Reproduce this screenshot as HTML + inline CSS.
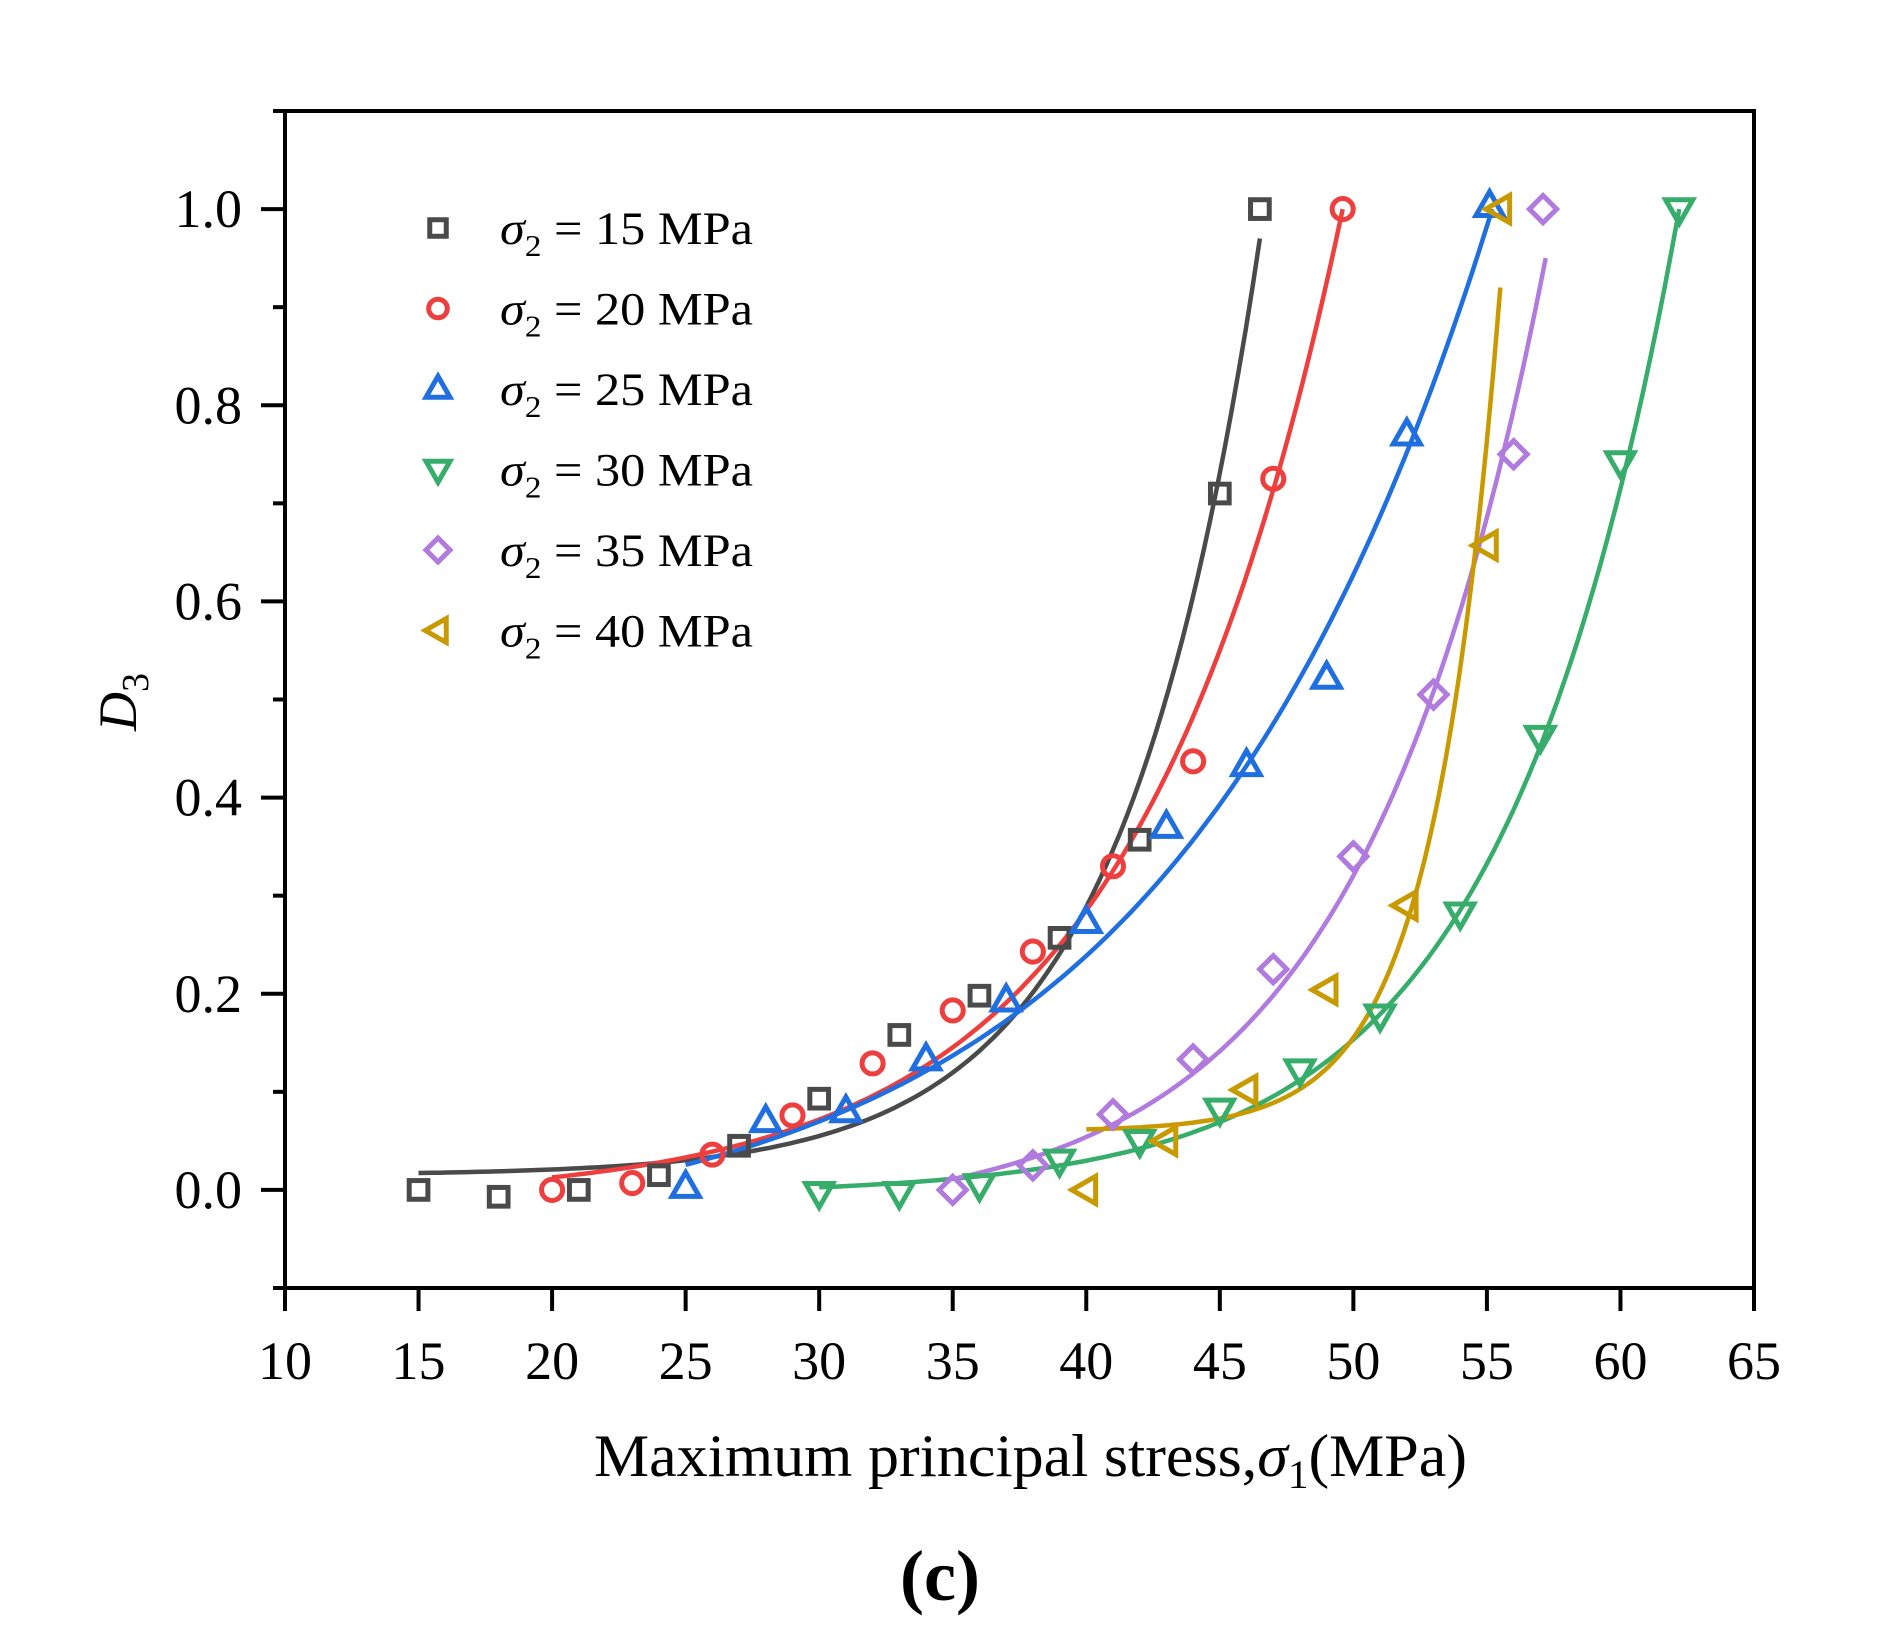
<!DOCTYPE html>
<html><head><meta charset="utf-8"><style>
html,body{margin:0;padding:0;background:#fff;}
svg{display:block;font-family:"Liberation Serif",serif;}
</style></head><body>
<svg id="chart" width="1879" height="1649" viewBox="0 0 1879 1649">
<rect x="285" y="111" width="1469" height="1177" fill="none" stroke="#000" stroke-width="4"/>
<g id="axes"></g>
<g id="curves"></g>
<g id="points"></g>
<g id="legend"></g>
<text x="594" y="1476" font-size="60" textLength="873" lengthAdjust="spacingAndGlyphs">Maximum principal stress,<tspan font-style="italic">σ</tspan><tspan font-size="40" dy="12">1</tspan><tspan dy="-12">(MPa)</tspan></text>
<text transform="translate(136,702) rotate(-90)" font-size="54" text-anchor="middle"><tspan font-style="italic">D</tspan><tspan font-size="38" dy="12">3</tspan></text>
<text x="940" y="1600" font-size="72" font-weight="bold" text-anchor="middle">(c)</text>
</svg>
<script>
const xTicks = [10,15,20,25,30,35,40,45,50,55,60,65];
const yTicks = [0.0,0.2,0.4,0.6,0.8,1.0];
const yMinor = [-0.1,0.1,0.3,0.5,0.7,0.9,1.1];
const seriesNames = ["σ2 = 15 MPa","σ2 = 20 MPa","σ2 = 25 MPa","σ2 = 30 MPa","σ2 = 35 MPa","σ2 = 40 MPa"];
const legendLabels = ["15","20","25","30","35","40"];
const s15x = [15,18,21,24,27,30,33,36,39,42,45,46.5];
const s15y = [0,-0.007,0,0.015,0.045,0.093,0.158,0.198,0.257,0.357,0.71,1.0];
const s20x = [20,23,26,29,32,35,38,41,44,47,49.6];
const s20y = [0,0.007,0.036,0.076,0.129,0.183,0.243,0.33,0.437,0.725,1.0];
const s25x = [25,28,31,34,37,40,43,46,49,52,55.1];
const s25y = [0.003,0.07,0.08,0.133,0.193,0.273,0.37,0.433,0.522,0.77,1.003];
const s30x = [30,33,36,39,42,45,48,51,54,57,60,62.2];
const s30y = [-0.003,-0.003,0.005,0.03,0.05,0.082,0.122,0.178,0.282,0.462,0.742,1.0];
const s35x = [35,38,41,44,47,50,53,56,57.1];
const s35y = [0,0.025,0.077,0.133,0.225,0.34,0.505,0.75,1.0];
const s40x = [40,43,46,49,52,55,55.5];
const s40y = [0,0.05,0.102,0.204,0.29,0.657,1.0];
// exponential fit params: offset a, end value, x start, x end, decay t
const fitA = [0.015,-0.01,-0.06,-0.005,-0.03,0.06];
const fitEndY = [0.97,1.0,1.0,1.0,0.95,0.92];
const fitX0 = [15,20,25,30,35,40];
const fitX1 = [46.5,49.6,55.2,62.2,57.2,55.5];
const fitT = [5.2,7.8,12,6.6,7,2.5];

const colors = ["#4a4a4a","#ee3e3e","#1f6fe0","#36ad6a","#b07ade","#c99a00"];
const shapes = ["square","circle","up","down","diamond","left"];
const NS="http://www.w3.org/2000/svg";
const X = v => 285 + (v-10)*(1469/55);
const Y = v => 1288 - (v+0.1)*(1177/1.2);
function mk(tag, attrs, parent){const e=document.createElementNS(NS,tag);for(const k in attrs)e.setAttribute(k,attrs[k]);parent.appendChild(e);return e;}
const axes=document.getElementById('axes');
xTicks.forEach(t=>{
  const l=mk('line',{x1:X(t),x2:X(t),y1:1288,y2:1311,stroke:'#000','stroke-width':4},axes);
  
  
  const tx=mk('text',{x:X(t),y:1379,'font-size':54,'text-anchor':'middle'},axes);
  tx.textContent=t;
  
  
});
yTicks.forEach(t=>{
  const l=mk('line',{x1:261,x2:285,y1:Y(t),y2:Y(t),stroke:'#000','stroke-width':4},axes);
  
  
  const tx=mk('text',{x:242,y:Y(t)+18,'font-size':54,'text-anchor':'end'},axes);
  tx.textContent=t.toFixed(1);
  
  
});
yMinor.forEach(t=>{
  const l=mk('line',{x1:273,x2:285,y1:Y(t),y2:Y(t),stroke:'#000','stroke-width':4},axes);
  
  
});
function marker(shape,cx,cy,col,parent,s){
  let e;
  if(shape==='square') e=mk('rect',{x:cx-s*0.55,y:cy-s*0.55,width:s*1.1,height:s*1.1},parent);
  else if(shape==='circle') e=mk('circle',{cx:cx,cy:cy,r:s*0.62},parent);
  else if(shape==='diamond') e=mk('polygon',{points:`${cx},${cy-s*0.8} ${cx+s*0.8},${cy} ${cx},${cy+s*0.8} ${cx-s*0.8},${cy}`},parent);
  else if(shape==='up') e=mk('polygon',{points:`${cx},${cy-s*0.85} ${cx+s*0.8},${cy+s*0.55} ${cx-s*0.8},${cy+s*0.55}`},parent);
  else if(shape==='down') e=mk('polygon',{points:`${cx},${cy+s*0.85} ${cx+s*0.8},${cy-s*0.55} ${cx-s*0.8},${cy-s*0.55}`},parent);
  else e=mk('polygon',{points:`${cx-s*0.85},${cy} ${cx+s*0.55},${cy-s*0.8} ${cx+s*0.55},${cy+s*0.8}`},parent);
  e.setAttribute('fill','none');e.setAttribute('stroke',col);e.setAttribute('stroke-width',5);
  return e;
}
const curves=document.getElementById('curves');
for(let i=0;i<6;i++){
  let d='';
  for(let k=0;k<=120;k++){
    const x=fitX0[i]+(fitX1[i]-fitX0[i])*k/120;
    const y=fitA[i]+(fitEndY[i]-fitA[i])*Math.exp((x-fitX1[i])/fitT[i]);
    d+=(k?'L':'M')+X(x).toFixed(1)+','+Y(y).toFixed(1);
  }
  const p=mk('path',{d:d,fill:'none',stroke:colors[i],'stroke-width':4.5},curves);
  
  
}
const pts=document.getElementById('points');
const allX=[s15x,s20x,s25x,s30x,s35x,s40x], allY=[s15y,s20y,s25y,s30y,s35y,s40y];
for(let i=0;i<6;i++){
  allX[i].forEach((x,j)=>{
    const m=marker(shapes[i],X(x),Y(allY[i][j]),colors[i],pts,17);
    
    
  });
}
const lg=document.getElementById('legend');
for(let i=0;i<6;i++){
  const cy=228+i*80.5;
  const g=mk('g',{},lg);
  
  
  marker(shapes[i],438,cy,colors[i],g,15);
  const t=mk('text',{x:500,y:cy+16,'font-size':47,textLength:253,lengthAdjust:'spacingAndGlyphs'},g);
  t.innerHTML='<tspan font-style="italic">σ</tspan><tspan font-size="31" dy="12">2</tspan><tspan dy="-12"> = '+legendLabels[i]+' MPa</tspan>';
}
</script>
</body></html>
